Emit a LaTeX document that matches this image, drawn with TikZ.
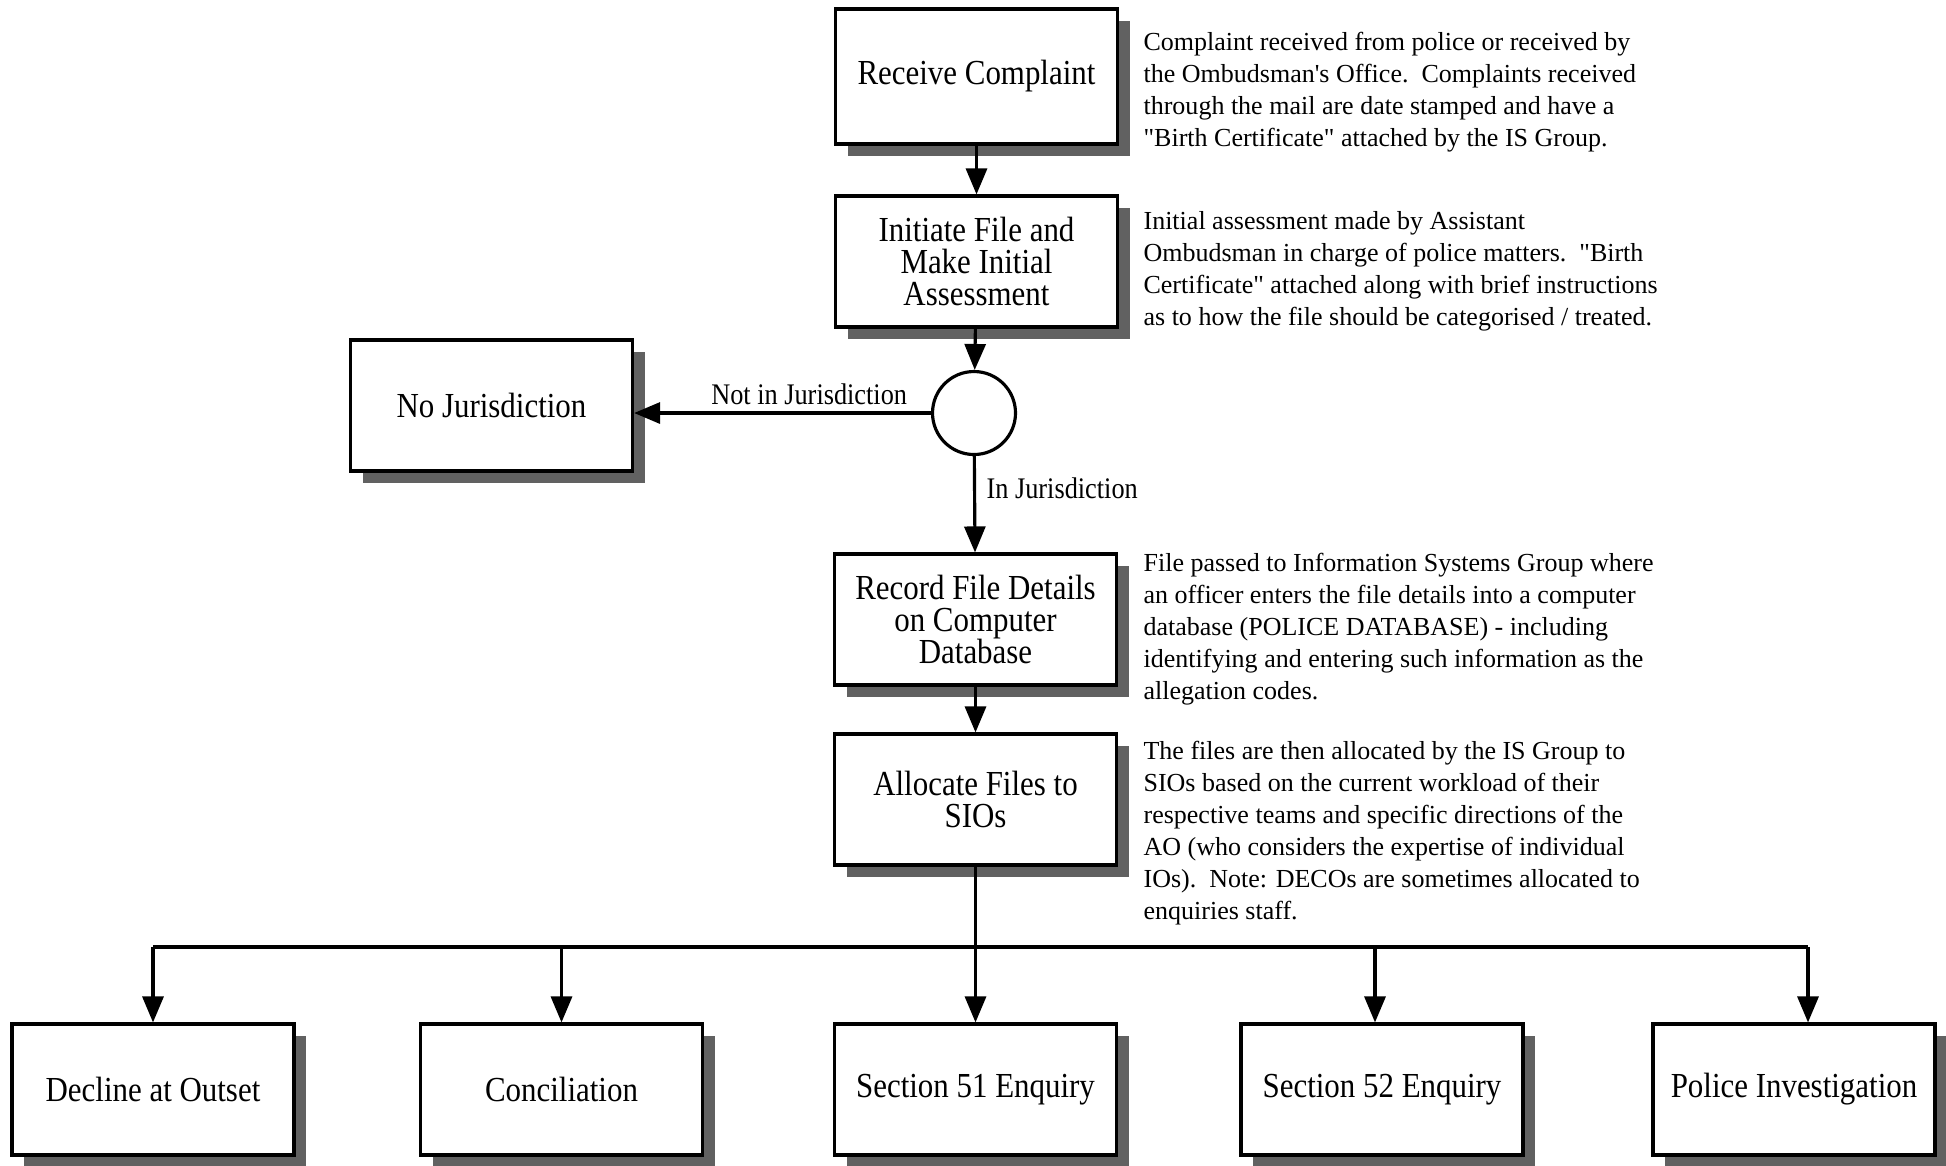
\documentclass[tikz,border=0pt]{standalone}
\usepackage{fontspec}
\setmainfont{Liberation Serif}[Ligatures=TeXOff]
\newfontfamily\narrowfont[FakeStretch=0.88]{Liberation Serif}
\usetikzlibrary{shapes,arrows.meta,positioning,calc,shadows}

\begin{document}
\begin{tikzpicture}[>={Triangle[length=2.6mm,width=2.1mm]}, line width=0.9pt,
    stepbox/.style={rectangle, draw, fill=white, line width=0.9pt, minimum width=2.82cm, minimum height=1.31cm,
        align=center, font=\narrowfont\fontsize{10}{9.2}\selectfont,
        drop shadow={shadow xshift=0.12cm, shadow yshift=-0.12cm, fill=black!62, opacity=1}},
    decision/.style={circle, draw, fill=white, minimum size=0.83cm, inner sep=0pt},
    note/.style={anchor=north west, inner sep=0pt, align=left, font=\fontsize{7.4}{9.1}\selectfont},
    branch/.style={font=\narrowfont\fontsize{8.5}{10}\selectfont, inner sep=1pt}
]
    \useasboundingbox (0,0) rectangle (19.46,-11.65);

    \node[stepbox, minimum height=1.35cm] (receive) at (9.765,-0.765) {Receive Complaint};
    \node[stepbox] (initiate) at (9.765,-2.615) {Initiate File and\\Make Initial\\Assessment};
    \node[decision] (juris) at (9.74,-4.13) {};
    \node[stepbox] (nojuris) at (4.915,-4.055) {No Jurisdiction};
    \node[stepbox] (record) at (9.755,-6.195) {Record File Details\\on Computer\\Database};
    \node[stepbox] (allocate) at (9.755,-7.995) {Allocate Files to\\SIOs};

    \node[stepbox] (decline) at (1.53,-10.895) {Decline at Outset};
    \node[stepbox] (concil) at (5.615,-10.895) {Conciliation};
    \node[stepbox] (sec51) at (9.755,-10.895) {Section 51 Enquiry};
    \node[stepbox] (sec52) at (13.82,-10.895) {Section 52 Enquiry};
    \node[stepbox] (police) at (17.94,-10.895) {Police Investigation};
    \coordinate (bus) at (9.755,-9.47);

    \node[note] (note1) at (11.42,-0.31) {Complaint received from police or received by\\the Ombudsman's Office.\ \ Complaints received\\through the mail are date stamped and have a\\"Birth Certificate" attached by the IS Group.};
    \node[note] (note2) at (11.42,-2.10) {Initial assessment made by Assistant\\Ombudsman in charge of police matters.\ \ "Birth\\Certificate" attached along with brief instructions\\as to how the file should be categorised / treated.};
    \node[note] (note3) at (11.42,-5.52) {File passed to Information Systems Group where\\an officer enters the file details into a computer\\database (POLICE DATABASE) - including\\identifying and entering such information as the\\allegation codes.};
    \node[note] (note4) at (11.42,-7.40) {The files are then allocated by the IS Group to\\SIOs based on the current workload of their\\respective teams and specific directions of the\\AO (who considers the expertise of individual\\IOs).\ \ Note: DECOs are sometimes allocated to\\enquiries staff.};

    \draw[->] (receive) -- (initiate);
    \draw[->] (initiate) -- (juris);
    \draw[->] (juris.west) -- (juris.west -| nojuris.east) node[branch, pos=0.41, above=1pt] (notlbl) {Not in Jurisdiction};
    \draw[->] (juris) -- (record) node[branch, pos=0.33, right=0.07cm] (inlbl) {In Jurisdiction};
    \draw[->] (record) -- (allocate);
    \draw[->] (allocate) -- (sec51);
    \draw (decline.north |- bus) -- ([xshift=1.4mm]police.north |- bus);
    \draw[->] (decline.north |- bus) -- (decline.north);
    \draw[->] (concil.north |- bus) -- (concil.north);
    \draw[->] ([xshift=-0.7mm]sec52.north |- bus) -- ([xshift=-0.7mm]sec52.north);
    \draw[->] ([xshift=1.4mm]police.north |- bus) -- ([xshift=1.4mm]police.north);
\end{tikzpicture}
\end{document}
